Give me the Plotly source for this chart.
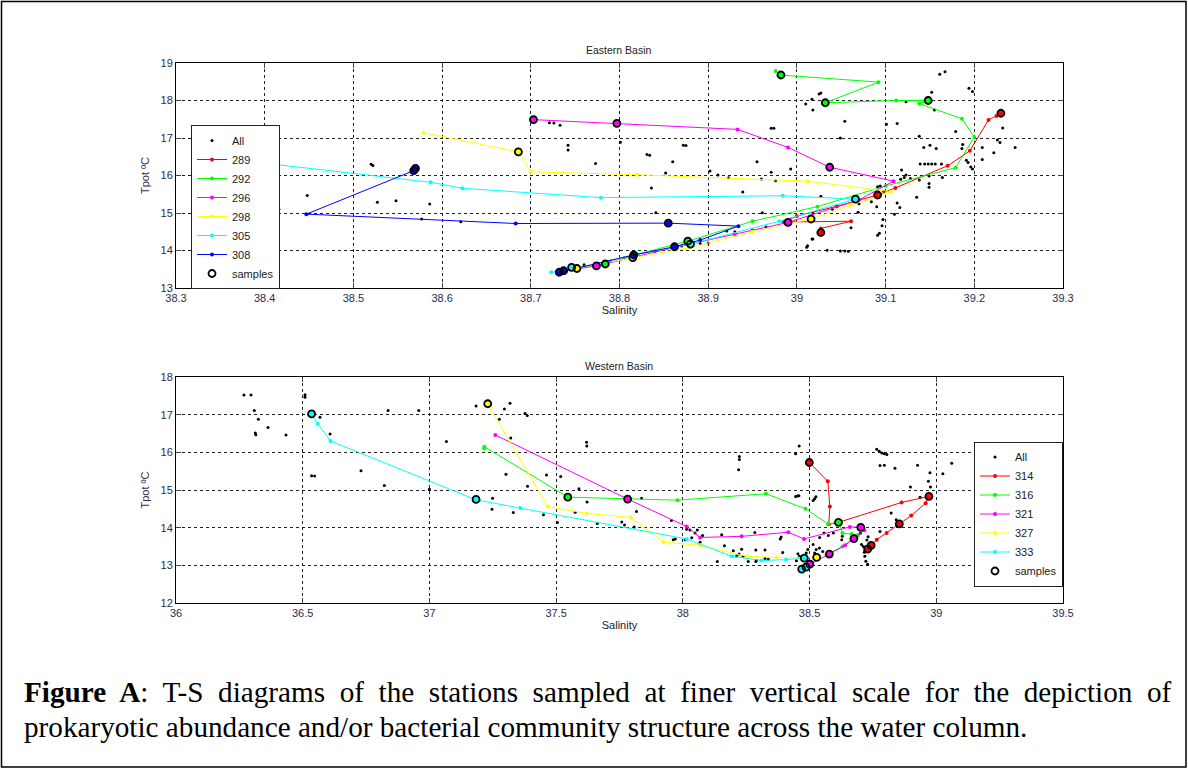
import plotly.graph_objects as go

W, H = 1188, 769

# ---------------- Eastern Basin data ----------------
E_ALL_S = [38.364, 38.399, 38.520, 38.522, 38.448, 38.416, 38.527, 38.548, 38.586, 38.577, 38.621,
           38.721, 38.726, 38.733, 38.742, 38.742, 38.773, 38.801, 38.831, 38.834, 38.860, 38.872, 38.875,
           38.852, 38.836, 38.841, 38.902, 38.911, 38.923, 38.939, 38.955, 38.971, 38.974, 38.971, 38.993,
           38.960, 38.976, 38.961, 39.010, 39.018, 39.017, 39.025, 39.027, 39.011, 39.017, 38.891, 38.900,
           38.921, 39.054, 39.049, 39.161, 39.167, 39.152, 39.155, 39.123, 39.101, 39.113, 39.138, 39.143,
           39.150, 39.157, 39.179, 39.194, 39.198, 39.187, 39.186, 39.209, 39.209, 39.222, 39.226, 39.229,
           39.232, 39.246, 39.191, 39.193, 39.196, 39.198, 39.139, 39.144, 39.148, 39.152, 39.156, 39.163,
           39.118, 39.123, 39.121, 39.117, 39.128, 39.138, 39.149, 39.164, 39.149, 39.149, 39.135, 39.113,
           39.116, 39.110, 39.097, 39.096, 39.091, 39.093, 39.091, 39.094, 39.090, 39.098, 39.084, 39.069,
           39.061, 39.054, 39.058, 39.049, 39.034, 39.018, 39.012, 39.027, 39.018,
           38.760, 38.790, 38.840, 38.870, 38.950, 38.965, 38.930, 39.040, 39.070, 38.805]
E_ALL_T = [16.47, 16.30, 16.30, 16.27, 15.47, 15.10, 15.29, 15.33, 15.24, 14.84, 14.77,
           17.41, 17.40, 17.34, 16.81, 16.68, 16.32, 16.89, 16.56, 16.54, 16.37, 16.81, 16.80,
           16.07, 15.67, 15.01, 16.12, 16.01, 15.94, 15.56, 16.37, 17.26, 17.26, 16.09, 16.17,
           15.91, 15.86, 15.01, 17.91, 17.75, 18.03, 18.17, 18.20, 14.09, 14.31, 14.19, 14.20,
           14.52, 17.45, 17.00, 18.70, 18.77, 18.22, 17.75, 17.97, 17.37, 17.39, 17.05, 16.75,
           16.81, 16.72, 17.17, 18.33, 18.24, 16.83, 16.72, 16.75, 16.43, 16.61, 16.95, 16.88,
           17.27, 16.75, 16.41, 16.35, 16.23, 16.17, 16.31, 16.31, 16.31, 16.31, 16.31, 16.31,
           16.15, 16.01, 15.95, 15.90, 15.92, 15.88, 15.99, 15.95, 15.79, 15.69, 15.42, 15.27,
           15.15, 14.97, 14.83, 14.66, 14.41, 14.46, 15.70, 15.72, 15.17, 15.58, 15.30, 15.02,
           14.61, 13.99, 13.98, 13.99, 14.01, 14.31, 14.13, 15.45, 15.01,
           13.62, 13.72, 13.98, 14.12, 14.55, 14.63, 14.50, 15.10, 15.25, 13.80]

E_STATIONS = ["289", "292", "296", "298", "305", "308"]
E_S = {
    "289": [39.230, 39.225, 39.216, 39.195, 39.170, 39.111, 39.091, 39.045, 39.000, 38.985, 39.061, 39.027, 39.027],
    "292": [38.976, 38.982, 39.092, 39.032, 39.112, 39.148, 39.138, 39.186, 39.200, 39.179, 39.100, 39.023,
            38.950, 38.877, 38.820, 38.784, 38.745, 38.730],
    "296": [38.703, 38.797, 38.933, 38.990, 39.037, 39.109, 39.070, 38.990, 38.930, 38.862, 38.774, 38.740],
    "298": [38.579, 38.686, 38.700, 38.820, 39.012, 39.106, 39.060, 39.016, 38.950, 38.880, 38.815, 38.752, 38.735],
    "305": [38.347, 38.332, 38.336, 38.587, 38.623, 38.779, 38.984, 39.066, 38.980, 38.880, 38.816, 38.750, 38.723],
    "308": [38.570, 38.568, 38.447, 38.683, 38.855, 38.934, 38.891, 38.862, 38.816, 38.737, 38.732],
}
E_T = {
    "289": [17.66, 17.59, 17.48, 16.66, 16.26, 15.67, 15.48, 15.18, 14.92, 14.76, 14.78, 14.59, 14.48],
    "292": [18.79, 18.68, 18.49, 17.94, 18.00, 18.00, 17.92, 17.51, 17.03, 16.21, 15.72, 15.17,
            14.78, 14.25, 13.90, 13.64, 13.50, 13.44],
    "296": [17.49, 17.39, 17.23, 16.75, 16.22, 15.85, 15.35, 14.75, 14.43, 14.08, 13.59, 13.47],
    "298": [17.14, 16.63, 16.10, 16.02, 15.85, 15.57, 15.20, 14.84, 14.50, 14.08, 13.81, 13.52, 13.45],
    "305": [17.06, 16.55, 16.50, 15.82, 15.66, 15.41, 15.46, 15.37, 14.78, 14.17, 13.88, 13.52, 13.42],
    "308": [16.19, 16.13, 14.97, 14.72, 14.73, 14.65, 14.28, 14.10, 13.88, 13.46, 13.42],
}
E_SMP_S = [39.230, 39.091, 39.027, 38.982, 39.032, 39.148, 38.877, 38.784, 38.703, 38.797, 39.037,
           38.990, 38.774, 38.686, 39.016, 38.815, 38.752, 38.347, 39.066, 38.880, 38.568, 38.570,
           38.855, 38.862, 38.816, 38.737, 38.732, 38.746]
E_SMP_T = [17.66, 15.48, 14.48, 18.68, 17.94, 18.00, 14.25, 13.64, 17.49, 17.39, 16.22,
           14.75, 13.59, 16.63, 14.84, 13.81, 13.52, 17.06, 15.37, 14.17, 16.13, 16.19,
           14.73, 14.10, 13.88, 13.46, 13.42, 13.55]
E_SMP_STN = ["289", "289", "289", "292", "292", "292", "292", "292", "296", "296", "296",
             "296", "296", "298", "298", "298", "298", "305", "305", "305", "308", "308",
             "308", "308", "308", "308", "308", "305"]

# ---------------- Western Basin data ----------------
W_ALL_S = [36.268, 36.296, 36.309, 36.325, 36.313, 36.315, 36.363, 36.434, 36.509, 36.509, 36.568, 36.608,
           36.535, 36.547, 36.730, 36.822, 36.837, 36.958, 37.000, 37.067, 37.184, 37.249, 37.247, 37.302,
           37.321, 37.296, 37.276, 37.318, 37.331, 37.377, 37.386, 37.620, 37.621, 37.462, 37.518, 37.387,
           37.590, 37.450, 37.505, 37.575, 37.622, 37.662, 37.759, 37.770, 37.808, 37.817, 37.837, 37.955,
           37.962, 37.970, 38.015, 38.028, 38.048, 38.459, 38.445, 38.223, 38.223, 38.220, 38.445, 38.452,
           38.458, 38.514, 38.520, 38.525, 38.765, 38.775, 38.785, 38.795, 38.805, 38.778, 38.795, 38.837,
           38.926, 38.898, 38.936, 38.969, 38.975, 38.977, 39.026, 39.061, 38.822, 38.842, 38.705, 38.712,
           38.718, 38.722, 38.729, 38.716, 38.778, 38.731, 38.726, 38.700, 38.629, 38.627, 38.594, 38.557,
           38.574, 38.540, 38.514, 38.520, 38.526, 38.539, 38.552, 38.493, 38.487, 38.454, 38.460, 38.448,
           38.384, 38.388, 38.394, 38.324, 38.284, 38.288, 38.232, 38.238, 38.258, 38.222, 38.212, 38.199,
           38.164, 38.136, 38.153, 38.078, 38.057, 38.009, 38.068, 38.035, 38.288, 38.290, 38.324, 38.337]
W_ALL_T = [17.52, 17.52, 17.11, 16.88, 16.51, 16.47, 16.66, 16.46, 17.53, 17.46, 16.93, 16.49,
           15.38, 15.37, 15.51, 15.12, 17.11, 17.11, 15.02, 16.29, 17.23, 14.78, 14.49, 15.42,
           16.38, 17.15, 16.88, 17.30, 14.40, 17.03, 16.98, 16.27, 16.17, 15.40, 15.36, 15.10,
           15.03, 14.34, 14.14, 14.41, 14.68, 14.11, 14.15, 14.07, 14.02, 14.43, 14.78, 14.19,
           13.68, 13.70, 13.96, 13.94, 13.86, 16.17, 15.96, 15.89, 15.81, 15.54, 14.83, 14.84,
           14.85, 14.72, 14.77, 14.82, 16.08, 16.03, 15.98, 15.96, 15.94, 15.65, 15.66, 15.58,
           15.66, 15.08, 14.81, 15.23, 15.46, 15.08, 15.43, 15.71, 14.39, 14.21, 13.55, 13.50,
           13.24, 13.11, 13.03, 13.35, 13.90, 13.76, 13.67, 13.85, 13.77, 13.68, 13.86, 13.86,
           13.79, 13.74, 13.55, 13.33, 13.42, 13.46, 13.37, 13.42, 13.33, 13.31, 13.24, 13.12,
           13.70, 13.75, 13.34, 13.41, 13.87, 13.41, 13.43, 13.24, 13.10, 13.30, 13.25, 13.39,
           13.52, 13.10, 13.81, 13.79, 13.94, 13.68, 13.61, 13.73, 13.10, 13.13, 13.18, 13.16]

W_STATIONS = ["314", "316", "321", "327", "333"]
W_S = {
    "314": [38.499, 38.572, 38.580, 38.576, 38.614, 38.863, 38.971, 38.958, 38.901, 38.854, 38.804, 38.765, 38.743, 38.729],
    "316": [37.216, 37.217, 37.546, 37.782, 37.979, 38.328, 38.484, 38.573, 38.614, 38.630, 38.666, 38.690, 38.630, 38.567],
    "321": [37.260, 37.782, 38.015, 38.068, 38.232, 38.416, 38.478, 38.659, 38.702, 38.716, 38.675, 38.640, 38.578, 38.501],
    "327": [37.230, 37.467, 37.621, 37.794, 37.923, 38.068, 38.252, 38.370, 38.528],
    "333": [36.535, 36.559, 36.610, 37.184, 37.358, 38.015, 38.193, 38.311, 38.407, 38.479, 38.500, 38.486, 38.469],
}
W_T = {
    "314": [15.73, 15.23, 14.56, 14.09, 14.14, 14.67, 14.83, 14.65, 14.32, 14.10, 13.86, 13.68, 13.53, 13.43],
    "316": [16.10, 16.15, 14.81, 14.76, 14.73, 14.90, 14.50, 14.10, 14.14, 13.86, 13.83, 13.80, 13.50, 13.28],
    "321": [16.46, 14.76, 14.03, 13.74, 13.77, 13.88, 13.70, 14.02, 14.01, 13.93, 13.71, 13.53, 13.30, 13.03],
    "327": [17.29, 14.56, 14.38, 14.27, 13.62, 13.53, 13.24, 13.21, 13.21],
    "333": [17.02, 16.76, 16.30, 14.74, 14.52, 13.70, 13.24, 13.13, 13.15, 13.19, 13.10, 12.95, 12.90],
}
W_SMP_S = [38.499, 38.971, 38.854, 38.743, 38.729, 37.546, 38.614, 37.782, 38.702, 38.675, 38.578,
           38.501, 37.230, 38.528, 36.535, 37.184, 38.479, 38.469, 38.486]
W_SMP_T = [15.73, 14.83, 14.10, 13.53, 13.43, 14.81, 14.14, 14.76, 14.01, 13.71, 13.30,
           13.03, 17.29, 13.21, 17.02, 14.75, 13.19, 12.90, 12.95]
W_SMP_STN = ["314", "314", "314", "314", "314", "316", "316", "321", "321", "321", "321",
             "321", "327", "327", "333", "333", "333", "333", "333"]

COLORS = {"289": "#ff0000", "292": "#00ff00", "296": "#ff00ff", "298": "#ffff00", "305": "#00ffff",
          "308": "#0000ff", "314": "#ff0000", "316": "#00ff00", "321": "#ff00ff", "327": "#ffff00",
          "333": "#00ffff"}

fig = go.Figure()


def add_panel(all_s, all_t, stations, s_d, t_d, sm_s, sm_t, sm_stn, xa, ya, leg):
    fig.add_trace(go.Scatter(x=all_s, y=all_t, mode="markers", name="All", xaxis=xa, yaxis=ya,
                             legend=leg, marker=dict(color="black", size=3)))
    for st in stations:
        fig.add_trace(go.Scatter(x=s_d[st], y=t_d[st], mode="lines+markers", name=st, xaxis=xa, yaxis=ya,
                                 legend=leg, line=dict(color=COLORS[st], width=1),
                                 marker=dict(color=COLORS[st], size=4)))
    fig.add_trace(go.Scatter(x=sm_s, y=sm_t, mode="markers", showlegend=False, xaxis=xa, yaxis=ya,
                             hoverinfo="skip",
                             marker=dict(color=[COLORS[s] for s in sm_stn], size=6)))
    fig.add_trace(go.Scatter(x=sm_s, y=sm_t, mode="markers", name="samples", xaxis=xa, yaxis=ya,
                             legend=leg,
                             marker=dict(symbol="circle-open", color="black", size=7, line=dict(width=1.8))))


add_panel(E_ALL_S, E_ALL_T, E_STATIONS, E_S, E_T, E_SMP_S, E_SMP_T, E_SMP_STN, "x", "y", "legend")
add_panel(W_ALL_S, W_ALL_T, W_STATIONS, W_S, W_T, W_SMP_S, W_SMP_T, W_SMP_STN, "x2", "y2", "legend2")

TICKC = "#2b2b4b"
xdom = [176 / W, 1063 / W]


def ax_common():
    return dict(showgrid=True, gridcolor="#222", griddash="dot", gridwidth=1, showline=True,
                linecolor="#000", linewidth=1, mirror="allticks", ticks="inside", ticklen=5,
                tickcolor="#444", zeroline=False, automargin=False,
                tickfont=dict(size=11, color=TICKC, family="Arial, Liberation Sans"))


fig.update_layout(
    width=W, height=H, margin=dict(l=0, r=0, t=0, b=0, pad=0, autoexpand=False),
    paper_bgcolor="white", plot_bgcolor="white",
    font=dict(family="Arial, Liberation Sans", size=11, color="#222"),
    xaxis=dict(domain=xdom, range=[38.3, 39.3], tick0=38.3, dtick=0.1, anchor="y",
               title=dict(text="Salinity", standoff=3, font=dict(size=11, color="#222")), **ax_common()),
    yaxis=dict(domain=[1 - 288 / H, 1 - 63 / H], range=[13, 19], dtick=1, anchor="x",
               title=dict(text="Tpot ºC", standoff=8, font=dict(size=11, color="#3a2a4a")), **ax_common()),
    xaxis2=dict(domain=xdom, range=[36, 39.5], tick0=36, dtick=0.5, anchor="y2",
                title=dict(text="Salinity", standoff=3, font=dict(size=11, color="#222")), **ax_common()),
    yaxis2=dict(domain=[1 - 603 / H, 1 - 377 / H], range=[12, 18], dtick=1, anchor="x2",
                title=dict(text="Tpot ºC", standoff=8, font=dict(size=11, color="#3a2a4a")), **ax_common()),
    legend=dict(x=191 / W, y=1 - 289 / H, xanchor="left", yanchor="bottom", bgcolor="white",
                bordercolor="#222", borderwidth=1, font=dict(size=11, color="#222"), tracegroupgap=0),
    legend2=dict(x=1063 / W, y=1 - 514 / H, xanchor="right", yanchor="middle", bgcolor="white",
                 bordercolor="#222", borderwidth=1, font=dict(size=11, color="#222"), tracegroupgap=0),
    showlegend=True,
)

fig.add_annotation(text="Eastern Basin", x=(xdom[0] + xdom[1]) / 2, y=1 - 50 / H, xref="paper", yref="paper",
                   showarrow=False, font=dict(size=10.5, color="#222"), yanchor="middle")
fig.add_annotation(text="Western Basin", x=(xdom[0] + xdom[1]) / 2, y=1 - 366 / H, xref="paper", yref="paper",
                   showarrow=False, font=dict(size=10.5, color="#222"), yanchor="middle")

CAP1 = ("<b>Figure  A</b>:  T-S  diagrams  of  the  stations  sampled  at  finer  vertical  scale  "
        "for  the  depiction  of")
CAP2 = "prokaryotic abundance and/or bacterial community structure across the water column."
for txt, yy in [(CAP1, 692), (CAP2, 727)]:
    fig.add_annotation(text=txt, x=22 / W, y=1 - yy / H, xref="paper", yref="paper", showarrow=False,
                       xanchor="left", yanchor="middle",
                       font=dict(family="Liberation Serif, Times New Roman, serif", size=29.2, color="black"))

fig.add_shape(type="rect", xref="paper", yref="paper", x0=1.5 / W, x1=1 - 2 / W, y0=2 / H, y1=1 - 1.5 / H,
              line=dict(color="black", width=1.5))

fig.write_html("out.html", config={"displayModeBar": False},
               post_script="document.body.style.margin='0';document.body.style.padding='0';"
                           "document.body.style.overflow='hidden';")
